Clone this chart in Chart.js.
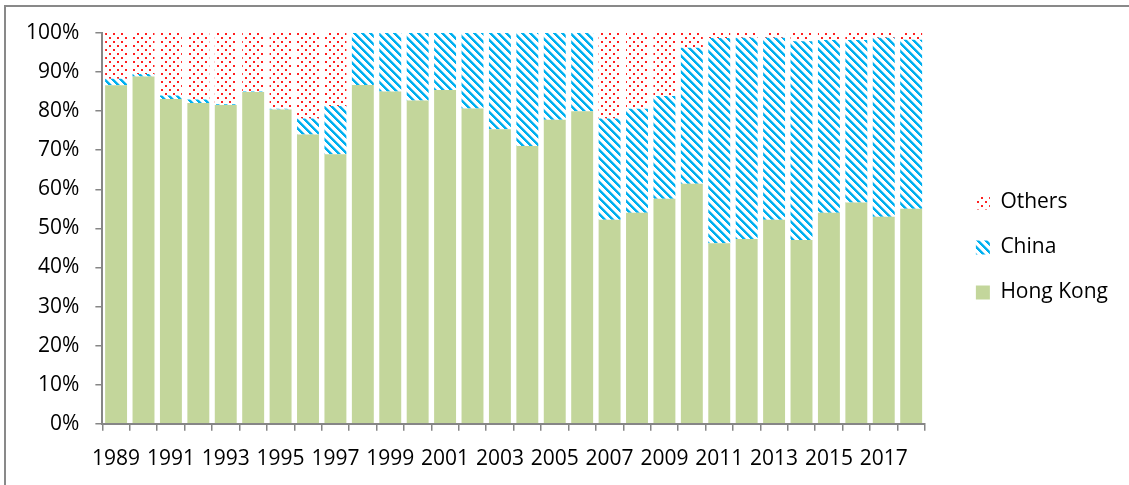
<!DOCTYPE html>
<html>
<head>
<meta charset="utf-8">
<script src="https://cdn.jsdelivr.net/npm/chart.js@4"></script>
<style>
  body { margin: 0; background: #fff; }
  .frame { position: absolute; left: 4px; top: 5px; width: 1300px; height: 700px; border: 2px solid #898989; }
  .wrap { position: absolute; left: 0; top: 0; width: 1129px; height: 485px; }
</style>
</head>
<body>
<div class="frame"></div>
<div class="wrap"><canvas id="share_chart"></canvas></div>
<script>
const years = ["1989","1990","1991","1992","1993","1994","1995","1996","1997","1998",
  "1999","2000","2001","2002","2003","2004","2005","2006","2007","2008",
  "2009","2010","2011","2012","2013","2014","2015","2016","2017","2018"];

// shares in percent
const hong_kong = [86.6, 88.9, 83.1, 82.1, 81.6, 84.9, 80.4, 74.0, 69.0, 86.7,
  85.0, 82.7, 85.4, 80.7, 75.4, 71.1, 77.8, 80.0, 52.2, 54.0,
  57.6, 61.4, 46.2, 47.3, 52.2, 47.0, 54.0, 56.6, 53.0, 55.0];
const china = [1.7, 0.6, 0.9, 0.9, 0.2, 0.1, 0.2, 4.1, 12.3, 13.3,
  15.0, 17.3, 14.6, 19.3, 24.6, 28.9, 22.2, 20.0, 25.9, 26.6,
  26.3, 34.8, 52.5, 51.5, 46.6, 50.9, 44.2, 41.6, 45.8, 43.3];
const others = [11.7, 10.5, 16.0, 17.0, 18.2, 15.0, 19.4, 21.9, 18.7, 0,
  0, 0, 0, 0, 0, 0, 0, 0, 21.9, 19.4,
  16.1, 3.8, 1.3, 1.2, 1.2, 2.1, 1.8, 1.8, 1.2, 1.7];

const y_ticks = [0, 10, 20, 30, 40, 50, 60, 70, 80, 90, 100];

const ctx = document.getElementById("share_chart").getContext("2d");

// wide downward diagonal, blue on white
function stripePattern(){
    let c = document.createElement("canvas");
    c.width = 8; c.height = 8;
    let g = c.getContext("2d");
    g.fillStyle = "#fff";
    g.fillRect(0, 0, 8, 8);
    for(let y = 0; y < 8; y++){
        for(let x = 0; x < 8; x++){
            let d = ((x - y) % 8 + 8) % 8;
            if(d < 3){
                g.fillStyle = "#00b0f0";
                g.fillRect(x, y, 1, 1);
            } else if(d == 3){
                g.fillStyle = "#8fd9f6";
                g.fillRect(x, y, 1, 1);
            }
        }
    }
    return ctx.createPattern(c, "repeat");
}

// red dots on white
function dotPattern(){
    let c = document.createElement("canvas");
    c.width = 8; c.height = 8;
    let g = c.getContext("2d");
    g.fillStyle = "#fff";
    g.fillRect(0, 0, 8, 8);
    g.fillStyle = "#ff2020";
    g.fillRect(1, 1, 2, 2);
    g.fillRect(5, 5, 2, 2);
    return ctx.createPattern(c, "repeat");
}

const axis_color = "#868686";
const font_family = "'Open Sans', sans-serif";

// push the legend a bit away from the plot, like the original
const legendShift = {
    id: "legendShift",
    afterLayout(chart){
        chart.legend.left += 27;
        chart.legend.right += 27;
        chart.legend.top -= 13;
        chart.legend.bottom -= 13;
    }
};

new Chart(ctx, {
    type: "bar",
    data: {
        labels: years,
        datasets: [{
            label: "Hong Kong",
            data: hong_kong,
            backgroundColor: "#c3d69b",
            borderWidth: 0
        },{
            label: "China",
            data: china,
            backgroundColor: stripePattern(),
            borderWidth: 0
        },{
            label: "Others",
            data: others,
            backgroundColor: dotPattern(),
            borderWidth: 0
        }]
    },
    plugins: [legendShift],
    options: {
        responsive: true,
        maintainAspectRatio: false,
        animation: false,
        datasets: {
            bar: { categoryPercentage: 1, barPercentage: 0.8 }
        },
        layout: {
            padding: { left: 10, right: 38, top: 33, bottom: -3 }
        },
        plugins: {
            tooltip: { enabled: false },
            legend: {
                position: "right",
                reverse: true,
                labels: {
                    color: "#000",
                    font: { family: font_family, size: 21 },
                    boxWidth: 14,
                    boxHeight: 14,
                    padding: 24
                }
            }
        },
        scales: {
            x: {
                stacked: true,
                grid: {
                    display: true,
                    drawOnChartArea: false,
                    drawTicks: true,
                    tickLength: 7,
                    color: axis_color,
                    lineWidth: 1.5
                },
                border: { color: axis_color, width: 2 },
                ticks: {
                    autoSkip: false,
                    maxRotation: 0,
                    padding: 16,
                    color: "#000",
                    font: { family: font_family, size: 21 },
                    callback: function(v, i){ return i % 2 == 0 ? years[i] : ""; }
                }
            },
            y: {
                stacked: true,
                min: 0,
                max: 100,
                afterBuildTicks: function(axis){ axis.ticks = y_ticks.map(v => ({ value: v })); },
                grid: {
                    display: true,
                    drawOnChartArea: false,
                    drawTicks: true,
                    tickLength: 7,
                    color: axis_color,
                    lineWidth: 1.5
                },
                border: { color: axis_color, width: 2 },
                ticks: {
                    padding: 16,
                    color: "#000",
                    font: { family: font_family, size: 21 },
                    callback: function(v){ return v + "%"; }
                }
            }
        }
    }
});
</script>
</body>
</html>
